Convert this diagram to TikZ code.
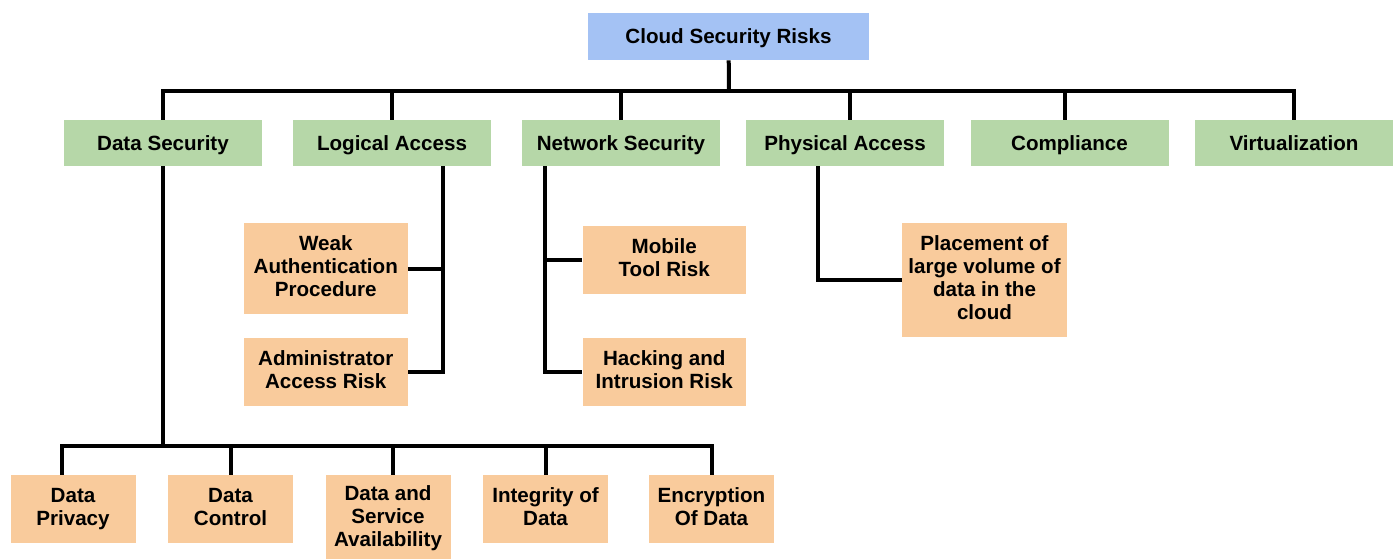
\documentclass[tikz,border=0pt]{standalone}
\usepackage{fontspec}
\setmainfont{Liberation Sans}
\usepackage{xcolor}
\usepackage{tikz}
\usetikzlibrary{positioning,calc}
\definecolor{rootblue}{HTML}{A4C2F4}
\definecolor{catgreen}{HTML}{B6D7A8}
\definecolor{riskorange}{HTML}{F9CB9C}
\tikzset{
  box/.style={rectangle,inner sep=0pt,align=center,font=\bfseries\fontsize{10.3}{11.5}\selectfont,
    execute at begin node=\rule{0pt}{9.6pt},execute at end node=\rule[-2.2pt]{0pt}{2.2pt}},
  rootbox/.style={box,fill=rootblue,minimum width=140.5pt,minimum height=23.5pt},
  catbox/.style={box,fill=catgreen,minimum width=99pt,minimum height=23pt},
  riskbox/.style={box,fill=riskorange,minimum width=62.5pt,minimum height=34pt},
  link/.style={line width=2pt}
}

\begin{document}
\begin{tikzpicture}[x=0.5pt,y=-0.5pt]
\useasboundingbox (0,0) rectangle (1394,558);
% Root
\node[rootbox] (root) at (728.5,36.5) {Cloud Security Risks};
% Categories
\node[catbox] (ds) at (163,143) {Data Security};
\node[catbox] (la) at (392,143) {Logical Access};
\node[catbox] (ns) at (621,143) {Network Security};
\node[catbox] (pa) at (845,143) {Physical Access};
\node[catbox] (co) at (1069.5,143) {Compliance};
\node[catbox] (vi) at (1294,143) {Virtualization};
% Risks
\node[riskbox,minimum width=81.75pt,minimum height=45.5pt] (wa) at (325.75,268.5) {Weak\\Authentication\\Procedure};
\node[riskbox,minimum width=81.75pt] (aa) at (325.75,372) {Administrator\\Access Risk};
\node[riskbox,minimum width=81.75pt] (mt) at (664.25,260) {Mobile\\Tool Risk};
\node[riskbox,minimum width=81.75pt] (hi) at (664.25,372) {Hacking and\\Intrusion Risk};
\node[riskbox,minimum width=82.5pt,minimum height=57pt] (pl) at (984.5,280) {Placement of\\large volume of\\data in the\\cloud};
\node[riskbox] (dp) at (73,509) {Data\\Privacy};
\node[riskbox] (dc) at (230.5,509) {Data\\Control};
\node[riskbox,minimum height=43pt] (da) at (388,518) {Data and\\Service\\Availability};
\node[riskbox] (in) at (545.5,509) {Integrity of\\Data};
\node[riskbox] (en) at (711.5,509) {Encryption\\Of Data};
% Joints
\coordinate (topbar) at (729,91);
\coordinate (botbar) at (160,446);
\coordinate (lax) at (443,0);
\coordinate (nsx) at (545,0);
\coordinate (pax) at (818,0);
% Root to categories
\draw[link] (root) -- (topbar);
\draw[link] (ds.north) |- (topbar) -| (vi.north);
\draw[link] (la.north) -- (la.north |- topbar);
\draw[link] (ns.north) -- (ns.north |- topbar);
\draw[link] ([xshift=2.5pt]pa.north) -- ([xshift=2.5pt]pa.north |- topbar);
\draw[link] ([xshift=-2.25pt]co.north) -- ([xshift=-2.25pt]co.north |- topbar);
% Logical access
\draw[link] (la.south -| lax) |- (aa.east);
\draw[link] (wa.east) -- (wa.east -| lax);
% Network security
\draw[link] (ns.south -| nsx) |- (hi.west);
\draw[link] (mt.west) -- (mt.west -| nsx);
% Physical access
\draw[link] (pa.south -| pax) |- (pl.west);
% Data security
\draw[link] (ds.south) -- (ds.south |- botbar);
\draw[link] ([xshift=-5.5pt]dp.north) |- (botbar) -| (en.north);
\draw[link] ([xshift=2.5pt]da.north) -- ([xshift=2.5pt]da.north |- botbar);
\foreach \n in {dc,in}
    \draw[link] (\n.north) -- (\n.north |- botbar);
\end{tikzpicture}
\end{document}
